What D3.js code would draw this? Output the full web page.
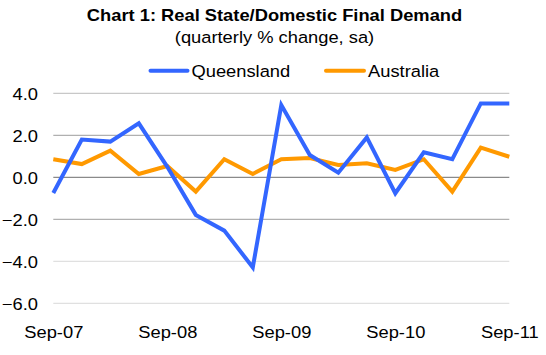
<!DOCTYPE html>
<html><head><meta charset="utf-8">
<script src="https://cdn.jsdelivr.net/npm/d3@7"></script>
<style>body{margin:0;background:#fff;}svg{display:block;}text{font-family:"Liberation Sans",Arial,Helvetica,sans-serif;fill:#000;}</style>
</head><body><svg id="c" width="546" height="355"></svg>
<script>
const quarters = ["Sep-07","Dec-07","Mar-08","Jun-08","Sep-08","Dec-08","Mar-09","Jun-09","Sep-09","Dec-09","Mar-10","Jun-10","Sep-10","Dec-10","Mar-11","Jun-11","Sep-11"];
const queensland = [-0.75,1.8,1.7,2.57,0.5,-1.79,-2.54,-4.29,3.44,1.06,0.22,1.9,-0.76,1.19,0.86,3.52,3.52];
const australia = [0.86,0.63,1.27,0.16,0.54,-0.68,0.86,0.16,0.86,0.92,0.59,0.67,0.35,0.86,-0.68,1.41,0.98];
const xTickLabels = ["Sep-07","Sep-08","Sep-09","Sep-10","Sep-11"];
const yTicks = [4,2,0,-2,-4,-6];
const seriesNames = ["Queensland","Australia"];
const title = "Chart 1: Real State/Domestic Final Demand";
const subtitle = "(quarterly % change, sa)";

const colors = {Queensland:"#3366FF", Australia:"#FF9900"};
const SX = 1.11, FS = 16.5;
const svg = d3.select("#c");
const x = d3.scalePoint().domain(quarters).range([53.3, 509.3]);
const y = d3.scaleLinear().domain([-6, 4]).range([303.3, 93.3]);

function stxt(g, str, tx, ty, anchor, bold) {
  return g.append("text").text(str)
    .attr("transform", `translate(${tx},${ty}) scale(${SX},1)`)
    .attr("text-anchor", anchor || "start")
    .style("font-size", FS + "px")
    .style("font-weight", bold ? "bold" : "normal");
}

// title
stxt(svg, title, 274.5, 21, "middle", true);
stxt(svg, subtitle, 274.5, 43, "middle", false);

// gridlines
const gridColor = v => v === 0 ? "#8a8a8a" : (Math.abs(v) === 2 ? "#b0b0b0" : (v === 4 ? "#c8c8c8" : "#e0e0e0"));
svg.append("g").selectAll("line").data(yTicks).join("line")
  .attr("x1", x.range()[0]).attr("x2", x.range()[1])
  .attr("y1", d => y(d)).attr("y2", d => y(d))
  .attr("stroke", d => gridColor(d)).attr("stroke-width", 1.2);

// y axis
const ya = svg.append("g").attr("transform", "translate(38,0)")
  .call(d3.axisLeft(y).tickValues(yTicks).tickSize(0).tickPadding(0).tickFormat(d3.format(".1f")));
ya.select(".domain").remove();
ya.selectAll("text").attr("x", null).attr("dy", null)
  .attr("transform", `translate(0,5.8) scale(${SX},1)`)
  .style("font-size", FS + "px").style("font-family", '"Liberation Sans",Arial,sans-serif').attr("fill", "#000");

// x axis
const xa = svg.append("g").attr("transform", `translate(0,${y(-6)})`)
  .call(d3.axisBottom(x).tickValues(xTickLabels).tickSize(0).tickPadding(0));
xa.select(".domain").remove();
xa.selectAll("text").attr("y", null).attr("dy", null)
  .attr("transform", `translate(0,35) scale(${SX},1)`)
  .style("font-size", FS + "px").style("font-family", '"Liberation Sans",Arial,sans-serif').attr("fill", "#000");

// lines
const line = d3.line().x((d, i) => x(quarters[i])).y(d => y(d));
const seriesData = {Queensland: queensland, Australia: australia};
["Australia","Queensland"].forEach(name => {
  svg.append("path").datum(seriesData[name])
    .attr("d", line).attr("fill", "none")
    .attr("stroke", colors[name]).attr("stroke-width", 4)
    .attr("stroke-linejoin", "miter");
});

// legend
const legendPos = [{line:[150.5,187.5], tx:191.5}, {line:[326,364], tx:368}];
seriesNames.forEach((name, i) => {
  const p = legendPos[i];
  svg.append("line").attr("x1", p.line[0]).attr("x2", p.line[1])
    .attr("y1", 70.7).attr("y2", 70.7)
    .attr("stroke", colors[name]).attr("stroke-width", 4).attr("stroke-linecap", "round");
  stxt(svg, name, p.tx, 77, "start", false);
});
</script></body></html>
